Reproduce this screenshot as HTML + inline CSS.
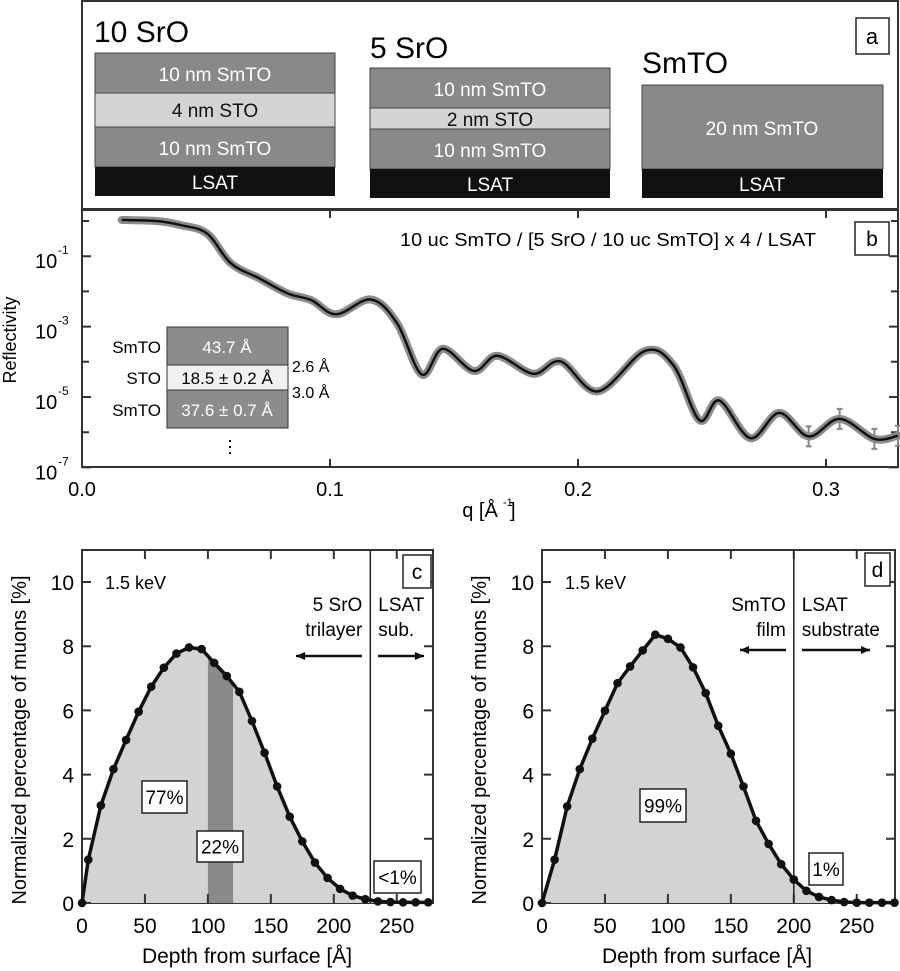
<!DOCTYPE html>
<html><head><meta charset="utf-8"><style>
body{margin:0;background:#fff}
svg{display:block;font-family:"Liberation Sans Narrow","Liberation Sans",sans-serif}
</style></head><body>
<svg id="fig" width="900" height="971" viewBox="0 0 900 971" xmlns="http://www.w3.org/2000/svg">
<g>
<rect x="82" y="1" width="816" height="208" fill="#fff" stroke="#333" stroke-width="2"/>
<rect x="856" y="18" width="33" height="36" fill="#fff" stroke="#222" stroke-width="1.5"/>
<text x="872" y="44" font-size="22" text-anchor="middle">a</text>
<g font-size="19" text-anchor="middle">
<text x="94" y="42" font-size="30" text-anchor="start">10 SrO</text>
<rect x="95" y="53" width="240" height="40" fill="#898989" stroke="#444"/>
<rect x="95" y="93" width="240" height="34" fill="#d4d4d4" stroke="#444"/>
<rect x="95" y="127" width="240" height="40" fill="#898989" stroke="#444"/>
<rect x="95" y="167" width="240" height="29" fill="#111"/>
<text x="215" y="81" fill="#fff">10 nm SmTO</text>
<text x="215" y="117" fill="#111">4 nm STO</text>
<text x="215" y="155" fill="#fff">10 nm SmTO</text>
<text x="215" y="189" fill="#fff">LSAT</text>
</g>
<g font-size="19" text-anchor="middle">
<text x="370" y="58" font-size="30" text-anchor="start">5 SrO</text>
<rect x="370" y="68" width="240" height="40" fill="#898989" stroke="#444"/>
<rect x="370" y="108" width="240" height="21" fill="#d4d4d4" stroke="#444"/>
<rect x="370" y="129" width="240" height="40" fill="#898989" stroke="#444"/>
<rect x="370" y="169" width="240" height="29" fill="#111"/>
<text x="490" y="96" fill="#fff">10 nm SmTO</text>
<text x="490" y="126" fill="#111">2 nm STO</text>
<text x="490" y="157" fill="#fff">10 nm SmTO</text>
<text x="490" y="191" fill="#fff">LSAT</text>
</g>
<g font-size="19" text-anchor="middle">
<text x="642" y="73" font-size="30" text-anchor="start">SmTO</text>
<rect x="642" y="85" width="241" height="84" fill="#898989" stroke="#444"/>
<rect x="642" y="169" width="241" height="29" fill="#111"/>
<text x="762" y="135" fill="#fff">20 nm SmTO</text>
<text x="762" y="191" fill="#fff">LSAT</text>
</g>
</g>
<g id="pb"></g>
<g id="pc"></g>
<g id="pd"></g>
</svg>
<script>
// ---- Panel b data ----
const bQ = [0.016,0.03,0.04,0.0505,0.06,0.0715,0.083,0.0925,0.1025,0.1165,0.127,0.137,0.1455,0.158,0.1675,0.182,0.193,0.208,0.227,0.2385,0.249,0.257,0.2695,0.2811,0.293,0.3055,0.3195,0.329];
const bLogR = [0.03,0.0,-0.12,-0.36,-1.2,-1.63,-2.06,-2.25,-2.65,-2.23,-2.9,-4.36,-3.63,-4.26,-3.83,-4.34,-3.99,-4.84,-3.69,-4.1,-5.66,-5.1,-6.17,-5.45,-6.12,-5.62,-6.19,-6.1];
const bXTicks = [0.0,0.1,0.2,0.3];
const bXTickLabels = ["0.0","0.1","0.2","0.3"];
const bYTicks = [-1,-3,-5,-7];
const bYMinor = [0,-2,-4,-6];
// ---- Panel c data ----
const cDepth = [0,5,15,25,35,45,55,65,75,85,95,105,115,125,135,145,155,165,175,185,195,205,215,225,235,245,255,265,275];
const cPct = [0,1.35,3.04,4.17,5.08,5.96,6.74,7.33,7.77,7.96,7.91,7.48,7.07,6.58,5.67,4.68,3.63,2.69,1.92,1.26,0.78,0.44,0.23,0.12,0.05,0.03,0.02,0.02,0.02];
// ---- Panel d data ----
const dDepth = [0,10,20,30,40,50,60,70,80,90,100,110,120,130,140,150,160,170,180,190,200,210,220,230,240,250,260,270,280];
const dPct = [0,1.35,3.01,4.17,5.12,5.99,6.85,7.37,7.87,8.36,8.23,7.96,7.34,6.54,5.52,4.65,3.63,2.56,1.84,1.21,0.73,0.38,0.19,0.09,0.03,0.01,0.01,0.01,0.01];
const xTicksCD = [0,50,100,150,200,250];
const yTicksCD = [0,2,4,6,8,10];

const NS="http://www.w3.org/2000/svg";
function mk(parent,tag,attrs,text){const e=document.createElementNS(NS,tag);for(const k in attrs)e.setAttribute(k,attrs[k]);if(text!==undefined)e.textContent=text;parent.appendChild(e);return e;}
function smooth(pts){let d="M"+pts[0][0]+","+pts[0][1];for(let i=0;i<pts.length-1;i++){const p0=pts[i-1]||pts[i],p1=pts[i],p2=pts[i+1],p3=pts[i+2]||p2;const c1=[p1[0]+(p2[0]-p0[0])/6,p1[1]+(p2[1]-p0[1])/6],c2=[p2[0]-(p3[0]-p1[0])/6,p2[1]-(p3[1]-p1[1])/6];d+="C"+c1[0]+","+c1[1]+" "+c2[0]+","+c2[1]+" "+p2[0]+","+p2[1];}return d;}

// ---- Panel b ----
(function(){
const g=document.getElementById('pb');
const L=82,R=898,T=210,B=467;
const X=q=>L+q*2480, Y=l=>397-(l+5)*35.2;
mk(g,'rect',{x:L,y:T,width:R-L,height:B-T,fill:'#fff',stroke:'#333','stroke-width':2});
bXTicks.forEach((t,i)=>{const x=X(t);
 const tk=mk(g,'path',{d:`M${x},${B}v-8M${x},${T}v8`,stroke:'#333','stroke-width':2});
 
 const lb=mk(g,'text',{x:x,y:B+29,'font-size':20,'text-anchor':'middle'},bXTickLabels[i]);
 });
bYTicks.forEach(t=>{const y=Y(t);
 mk(g,'path',{d:`M${L},${y}h9M${R},${y}h-9`,stroke:'#333','stroke-width':2});
 const lb=mk(g,'text',{x:35,y:y+12,'font-size':20},'10');
 
 mk(g,'text',{x:58,y:y-2,'font-size':12},String(t));});
bYMinor.forEach(t=>{const y=Y(t);mk(g,'path',{d:`M${L},${y}h7M${R},${y}h-7`,stroke:'#333','stroke-width':2});});
const pts=bQ.map((q,i)=>[X(q),Y(bLogR[i])]);
const d=smooth(pts);
const dataBand=mk(g,'path',{d:d,fill:'none',stroke:'#8c8c8c','stroke-width':8,'stroke-linecap':'round'});

bQ.forEach((q,i)=>{if(q>0.285){const x=X(q),y=Y(bLogR[i]);mk(g,'path',{d:`M${x},${y-10}v20M${x-3},${y-10}h6M${x-3},${y+10}h6`,stroke:'#888','stroke-width':2});}});
const fit=mk(g,'path',{d:d,fill:'none',stroke:'#111','stroke-width':2.5});

const yt=mk(g,'text',{x:0,y:0,'font-size':18,'text-anchor':'middle',transform:'translate(16,340) rotate(-90)'},'Reflectivity');

const xt=mk(g,'text',{x:480,y:517,'font-size':20,'text-anchor':'middle'},'q [Å');

mk(g,'text',{x:503,y:506,'font-size':11},'-1');
mk(g,'text',{x:510,y:517,'font-size':20},']');
const st=mk(g,'text',{x:400,y:246,'font-size':18,textLength:416,lengthAdjust:'spacingAndGlyphs'},'10 uc SmTO / [5 SrO / 10 uc SmTO] x 4 / LSAT');

mk(g,'rect',{x:855,y:222,width:34,height:33,fill:'#fff',stroke:'#222','stroke-width':1.5});
mk(g,'text',{x:872,y:246,'font-size':21,'text-anchor':'middle'},'b');
const ins=mk(g,'g',{});

mk(ins,'rect',{x:167,y:327,width:121,height:38,fill:'#8c8c8c',stroke:'#333'});
mk(ins,'rect',{x:167,y:365,width:121,height:25,fill:'#f0f0f0',stroke:'#333'});
mk(ins,'rect',{x:167,y:390,width:121,height:38,fill:'#8c8c8c',stroke:'#333'});
mk(ins,'text',{x:227,y:353,'font-size':17,fill:'#fff','text-anchor':'middle'},'43.7 Å');
mk(ins,'text',{x:227,y:384,'font-size':17,'text-anchor':'middle'},'18.5 ± 0.2 Å');
mk(ins,'text',{x:227,y:416,'font-size':17,fill:'#fff','text-anchor':'middle'},'37.6 ± 0.7 Å');
mk(ins,'text',{x:161,y:353,'font-size':17,'text-anchor':'end'},'SmTO');
mk(ins,'text',{x:161,y:384,'font-size':17,'text-anchor':'end'},'STO');
mk(ins,'text',{x:161,y:416,'font-size':17,'text-anchor':'end'},'SmTO');
mk(ins,'text',{x:292,y:372,'font-size':16},'2.6 Å');
mk(ins,'text',{x:292,y:398,'font-size':16},'3.0 Å');
mk(ins,'path',{d:'M230,440v2M230,446v2M230,452v2',stroke:'#111','stroke-width':2});
})();

// ---- Panels c,d ----
function distPanel(id,L,R,depths,vals,opt){
const g=document.getElementById(id);
const T=550,B=903, sx=1.259, sy=32.1;
const X=v=>L+v*sx, Y=v=>B-v*sy;
mk(g,'rect',{x:L,y:T,width:R-L,height:B-T,fill:'#fff',stroke:'#333','stroke-width':2});
const pts=depths.map((d,i)=>[X(d),Y(vals[i])]);
const areaD='M'+pts.map(p=>p.join(',')).join('L')+`L${pts[pts.length-1][0]},${B}L${X(0)},${B}Z`;
const area=mk(g,'path',{d:areaD,fill:'#d3d3d3'});

if(opt.band){
 const cp=mk(g,'clipPath',{id:id+'-clip'});
 mk(cp,'path',{d:areaD});
 const bw=mk(g,'rect',{x:X(opt.band[0]),y:T,width:X(opt.band[1])-X(opt.band[0]),height:B-T,fill:'#8a8a8a','clip-path':`url(#${id}-clip)`});
 }
xTicksCD.forEach(t=>{const x=X(t);
 mk(g,'path',{d:`M${x},${B}v-9M${x},${T}v9`,stroke:'#333','stroke-width':2});
 const lb=mk(g,'text',{x:x,y:B+30,'font-size':21,'text-anchor':'middle'},String(t));
 });
yTicksCD.forEach(t=>{const y=Y(t);
 mk(g,'path',{d:`M${L},${y}h9M${R},${y}h-9`,stroke:'#333','stroke-width':2});
 const lb=mk(g,'text',{x:L-8,y:y+8,'font-size':21,'text-anchor':'end'},String(t));
 });
mk(g,'path',{d:`M${X(opt.split)},${T}V${B}`,stroke:'#222','stroke-width':1.5});
const line=mk(g,'path',{d:'M'+pts.map(p=>p.join(',')).join('L'),fill:'none',stroke:'#111','stroke-width':3.5});

pts.forEach(p=>{const c=mk(g,'circle',{cx:p[0],cy:p[1],r:4.3,fill:'#111'});
 });
const yt=mk(g,'text',{x:0,y:0,'font-size':20,'text-anchor':'middle',transform:`translate(${L-56},740) rotate(-90)`},'Normalized percentage of muons [%]');

const xt=mk(g,'text',{x:L+165,y:963,'font-size':21,'text-anchor':'middle'},'Depth from surface [Å]');

mk(g,'text',{x:L+23,y:589,'font-size':18},'1.5 keV');
mk(g,'rect',{x:opt.lab[0],y:opt.lab[1],width:opt.lab[2],height:33,fill:'#fff',stroke:'#222','stroke-width':1.5});
mk(g,'text',{x:opt.lab[0]+opt.lab[2]/2,y:opt.lab[1]+24,'font-size':21,'text-anchor':'middle'},opt.letter);
opt.leftText.forEach((s,i)=>mk(g,'text',{x:X(opt.split)-8,y:611+i*25,'font-size':19,'text-anchor':'end'},s));
opt.rightText.forEach((s,i)=>mk(g,'text',{x:X(opt.split)+8,y:611+i*25,'font-size':19},s));
const ay=opt.ay;
mk(g,'path',{d:`M${opt.la[0]},${ay}H${opt.la[1]}`,stroke:'#111','stroke-width':2.5});
mk(g,'path',{d:`M${opt.la[1]},${ay}l9,-4v8z`,fill:'#111'});
mk(g,'path',{d:`M${opt.ra[0]},${ay}H${opt.ra[1]}`,stroke:'#111','stroke-width':2.5});
mk(g,'path',{d:`M${opt.ra[1]},${ay}l-9,-4v8z`,fill:'#111'});
opt.boxes.forEach(b=>{const r=mk(g,'rect',{x:b[0],y:b[1],width:b[2],height:b[3],fill:'#fff',stroke:'#222','stroke-width':1.5});
 
 mk(g,'text',{x:b[0]+b[2]/2,y:b[1]+b[3]/2+7,'font-size':19,'text-anchor':'middle'},b[4]);});
}
distPanel('pc',82,433,cDepth,cPct,{band:[100,120],split:229,letter:'c',lab:[403,555,28],
 leftText:['5 SrO','trilayer'],rightText:['LSAT','sub.'],ay:656,la:[362,296],ra:[378,424],
 boxes:[[142,781,45,32,'77%'],[197,831,46,31,'22%'],[374,861,47,32,'<1%']]});
distPanel('pd',542,895,dDepth,dPct,{split:200,letter:'d',lab:[865,553,25],
 leftText:['SmTO','film'],rightText:['LSAT','substrate'],ay:650,la:[786,740],ra:[802,870],
 boxes:[[640,789,46,33,'99%'],[809,853,34,32,'1%']]});
</script>
</body></html>
